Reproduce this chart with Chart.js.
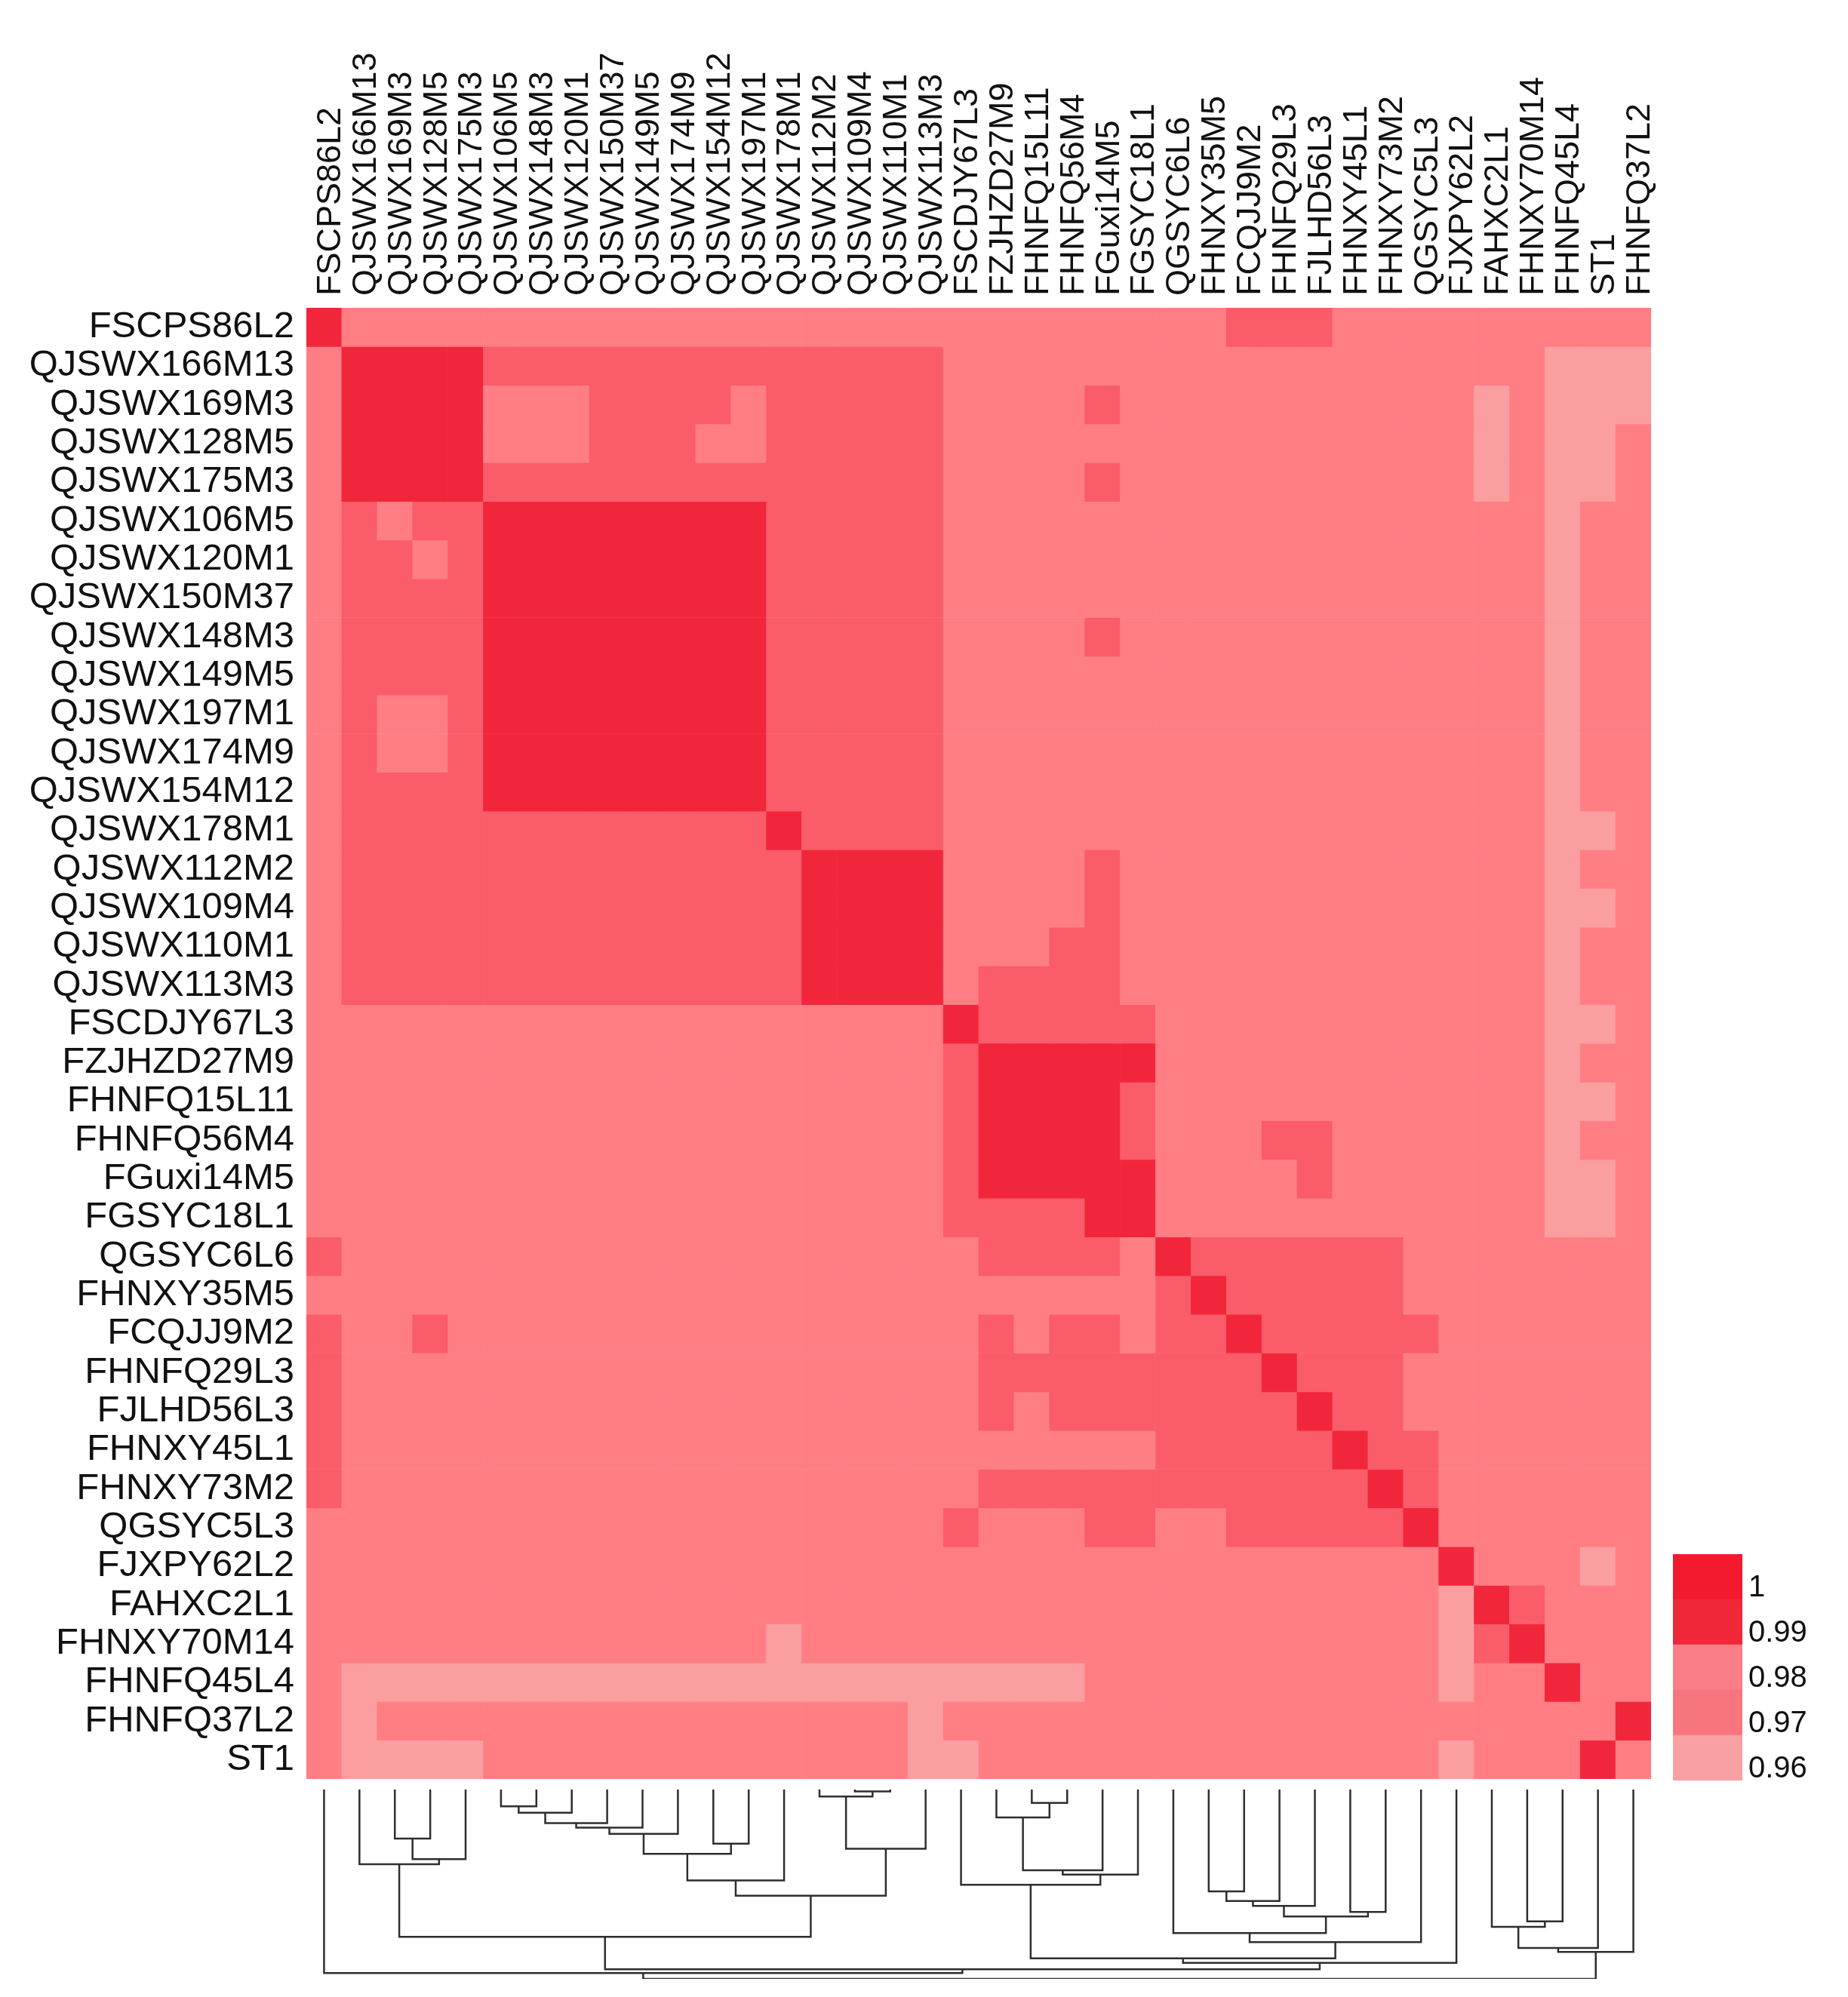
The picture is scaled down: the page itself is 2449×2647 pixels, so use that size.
<!DOCTYPE html>
<html>
<head>
<meta charset="utf-8">
<script src="https://cdn.jsdelivr.net/npm/chart.js@4.4.1/dist/chart.umd.min.js"></script>
<style>
  html, body { margin: 0; padding: 0; background: #ffffff; }
  #wrap { position: relative; width: 2449px; height: 2647px; }
  #wrap canvas { position: absolute; left: 0; top: 0; }
</style>
</head>
<body>
<div id="wrap">
  <canvas id="heatmap" width="2449" height="2647"></canvas>
  <canvas id="dendro" width="2449" height="2647"></canvas>
  <canvas id="colorScale" width="2449" height="2647"></canvas>
</div>
<script>
// column order (top labels, left to right)
const colNames = [
  "FSCPS86L2", "QJSWX166M13", "QJSWX169M3", "QJSWX128M5", "QJSWX175M3", "QJSWX106M5",
  "QJSWX148M3", "QJSWX120M1", "QJSWX150M37", "QJSWX149M5", "QJSWX174M9", "QJSWX154M12",
  "QJSWX197M1", "QJSWX178M1", "QJSWX112M2", "QJSWX109M4", "QJSWX110M1", "QJSWX113M3",
  "FSCDJY67L3", "FZJHZD27M9", "FHNFQ15L11", "FHNFQ56M4", "FGuxi14M5", "FGSYC18L1",
  "QGSYC6L6", "FHNXY35M5", "FCQJJ9M2", "FHNFQ29L3", "FJLHD56L3", "FHNXY45L1",
  "FHNXY73M2", "QGSYC5L3", "FJXPY62L2", "FAHXC2L1", "FHNXY70M14", "FHNFQ45L4",
  "ST1", "FHNFQ37L2"
];

// row order (left labels, top to bottom)
const rowNames = [
  "FSCPS86L2", "QJSWX166M13", "QJSWX169M3", "QJSWX128M5", "QJSWX175M3", "QJSWX106M5",
  "QJSWX120M1", "QJSWX150M37", "QJSWX148M3", "QJSWX149M5", "QJSWX197M1", "QJSWX174M9",
  "QJSWX154M12", "QJSWX178M1", "QJSWX112M2", "QJSWX109M4", "QJSWX110M1", "QJSWX113M3",
  "FSCDJY67L3", "FZJHZD27M9", "FHNFQ15L11", "FHNFQ56M4", "FGuxi14M5", "FGSYC18L1",
  "QGSYC6L6", "FHNXY35M5", "FCQJJ9M2", "FHNFQ29L3", "FJLHD56L3", "FHNXY45L1",
  "FHNXY73M2", "QGSYC5L3", "FJXPY62L2", "FAHXC2L1", "FHNXY70M14", "FHNFQ45L4",
  "FHNFQ37L2", "ST1"
];

// similarity class of every cell, one string per row (spaces only for reading)
// 1 = 0.96, 2 = 0.97, 3 = 0.98, 4 = 0.99-1
const simRows = [
  "4222222222 2222222222 2222223332 22222222",
  "2444433333 3333333322 2222222222 22222111",
  "2444422233 3323333322 2232222222 22212111",
  "2444422233 3223333322 2222222222 22212112",
  "2444433333 3333333322 2232222222 22212112",
  "2323344444 4443333322 2222222222 22222122",
  "2332344444 4443333322 2222222222 22222122",
  "2333344444 4443333322 2222222222 22222122",
  "2333344444 4443333322 2232222222 22222122",
  "2333344444 4443333322 2222222222 22222122",
  "2322344444 4443333322 2222222222 22222122",
  "2322344444 4443333322 2222222222 22222122",
  "2333344444 4443333322 2222222222 22222122",
  "2333333333 3334333322 2222222222 22222112",
  "2333333333 3333444422 2232222222 22222122",
  "2333333333 3333444422 2232222222 22222112",
  "2333333333 3333444422 2332222222 22222122",
  "2333333333 3333444423 3332222222 22222122",
  "2222222222 2222222243 3333222222 22222112",
  "2222222222 2222222234 4444222222 22222122",
  "2222222222 2222222234 4443222222 22222112",
  "2222222222 2222222234 4443222332 22222122",
  "2222222222 2222222234 4444222232 22222112",
  "2222222222 2222222233 3344222222 22222112",
  "3222222222 2222222223 3332433333 32222222",
  "2222222222 2222222222 2222343333 32222222",
  "3223222222 2222222223 2332334333 33222222",
  "3222222222 2222222223 3333333433 32222222",
  "3222222222 2222222223 2333333343 32222222",
  "3222222222 2222222222 2222333334 33222222",
  "3222222222 2222222223 3333333333 43222222",
  "2222222222 2222222232 2233223333 34222222",
  "2222222222 2222222222 2222222222 22422212",
  "2222222222 2222222222 2222222222 22143222",
  "2222222222 2221222222 2222222222 22134222",
  "2111111111 1111111111 1122222222 22122422",
  "2122222222 2222222122 2222222222 22222224",
  "2111122222 2222222112 2222222222 22122242"
];
const classColors = { 1: "#FA9EA0", 2: "#FF7E84", 3: "#FA5C69", 4: "#F2263B" };

// colour key
const keyLabels = ["0.96", "0.97", "0.98", "0.99", "1"];
const keyColors = ["#F9A0A2", "#F7767E", "#FA7E85", "#EF2739", "#F31A30"];

// column dendrogram, linkage style: leaf i = column i, merge k = node 38 + k
const linkLeft = [2, 38, 1, 5, 41, 42, 43, 44, 11, 45, 47, 15, 14, 50, 48, 40, 20, 19, 55, 56, 18,
  25, 59, 60, 29, 61, 24, 64, 58, 66, 53, 0, 34, 33, 71, 72, 69];
const linkRight = [3, 4, 39, 6, 7, 8, 9, 10, 12, 46, 13, 16, 49, 17, 51, 52, 21, 54, 22, 23, 57,
  26, 27, 28, 30, 62, 63, 31, 65, 32, 67, 68, 35, 70, 36, 37, 73];
const linkHeight = [1.90, 2.70, 2.90, 0.65, 0.90, 1.30, 1.48, 1.72, 2.10, 2.50, 3.53, 0.07, 0.27, 2.30,
  4.12, 5.72, 0.52, 1.08, 3.13, 3.30, 3.70, 3.95, 4.33, 4.52, 4.75, 4.93, 5.57, 5.92, 6.55, 6.73,
  6.98, 7.12, 5.12, 5.33, 6.15, 6.30, 7.35];

Chart.defaults.font.family = "'Liberation Sans', Arial, Helvetica, sans-serif";
Chart.defaults.color = "#111111";

const cells = simRows.map((s) => s.replace(/ /g, "").split("").map(Number));
cells.forEach((r, i) => {
  if (r.length !== colNames.length) throw new Error("row " + i + " has " + r.length + " cells");
});

// ---------- heatmap ----------
const heatSets = rowNames.map((name, r) => ({
  label: name,
  data: colNames.map(() => [r, r + 1]),
  backgroundColor: cells[r].map((v) => classColors[v]),
  borderWidth: 0,
  grouped: false,
  barPercentage: 1,
  categoryPercentage: 1,
}));

new Chart(document.getElementById("heatmap"), {
  type: "bar",
  data: { labels: colNames, datasets: heatSets },
  options: {
    responsive: false,
    animation: false,
    events: [],
    layout: { padding: { left: 0, top: 0, right: 261, bottom: 289 } },
    plugins: { legend: { display: false }, tooltip: { enabled: false } },
    scales: {
      x: {
        position: "top",
        grid: { display: false, drawTicks: false },
        border: { display: false },
        // rotated top labels sit one line-height too far left, push them back over the cells
        ticks: { autoSkip: false, maxRotation: 90, minRotation: 90, padding: 16, labelOffset: 63, font: { size: 45 } },
        afterFit: (s) => { s.height = 408; },
      },
      y: {
        min: 0,
        max: 38,
        reverse: true,
        grid: { display: false, drawTicks: false },
        border: { display: false },
        afterBuildTicks: (s) => { s.ticks = rowNames.map((_, i) => ({ value: i + 0.5 })); },
        ticks: { autoSkip: false, padding: 16, font: { size: 49 }, callback: (v) => rowNames[Math.floor(v)] },
        afterFit: (s) => { s.width = 406; },
      },
    },
  },
});

// ---------- dendrogram ----------
const nLeaf = colNames.length;
function nodeX(n) {
  if (n < nLeaf) return n + 0.5;
  const k = n - nLeaf;
  return (nodeX(linkLeft[k]) + nodeX(linkRight[k])) / 2;
}
function nodeH(n) {
  return n < nLeaf ? 0 : linkHeight[n - nLeaf];
}
const treeSets = linkLeft.map((a, k) => {
  const b = linkRight[k];
  const h = linkHeight[k];
  return {
    data: [
      { x: nodeX(a), y: nodeH(a) },
      { x: nodeX(a), y: h },
      { x: nodeX(b), y: h },
      { x: nodeX(b), y: nodeH(b) },
    ],
    showLine: true,
    borderColor: "#2e2e2e",
    borderWidth: 2.5,
    pointRadius: 0,
    tension: 0,
  };
});

new Chart(document.getElementById("dendro"), {
  type: "scatter",
  data: { datasets: treeSets },
  options: {
    responsive: false,
    animation: false,
    events: [],
    layout: { padding: { left: 406, top: 2372, right: 261, bottom: 24 } },
    plugins: { legend: { display: false }, tooltip: { enabled: false } },
    scales: {
      x: { type: "linear", min: 0, max: nLeaf, display: false },
      y: { type: "linear", min: 0, max: 7.35, reverse: true, display: false },
    },
  },
});

// ---------- colour key ----------
new Chart(document.getElementById("colorScale"), {
  type: "bar",
  data: {
    labels: [""],
    datasets: keyLabels.map((lab, i) => ({
      label: lab,
      data: [[i, i + 1]],
      backgroundColor: keyColors[i],
      borderWidth: 0,
      grouped: false,
      barPercentage: 1,
      categoryPercentage: 1,
    })),
  },
  options: {
    responsive: false,
    animation: false,
    events: [],
    layout: { padding: { left: 2217, top: 2060, right: 0, bottom: 287 } },
    plugins: { legend: { display: false }, tooltip: { enabled: false } },
    scales: {
      x: { display: false },
      y: {
        position: "right",
        min: 0,
        max: 5,
        grid: { display: false, drawTicks: false },
        border: { display: false },
        afterBuildTicks: (s) => { s.ticks = keyLabels.map((_, i) => ({ value: i + 0.25 })); },
        ticks: { autoSkip: false, padding: 8, font: { size: 40 }, callback: (v) => keyLabels[Math.floor(v)] },
        afterFit: (s) => { s.width = 140; },
      },
    },
  },
});
</script>
</body>
</html>
